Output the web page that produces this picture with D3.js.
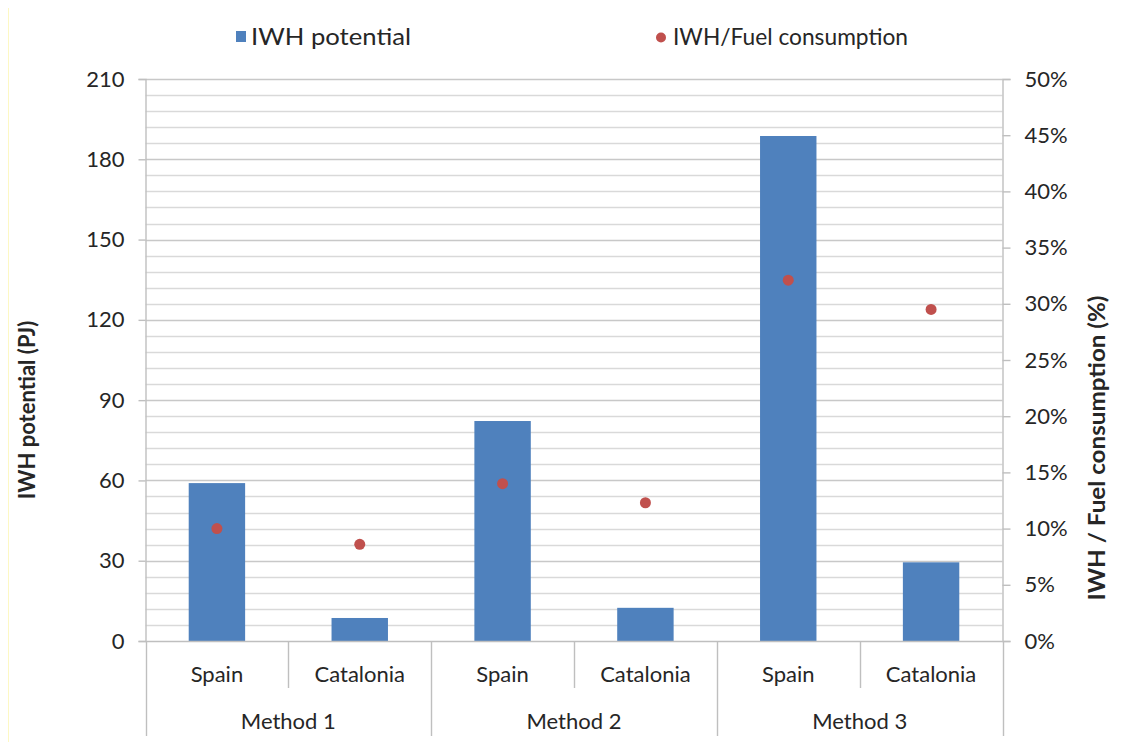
<!DOCTYPE html>
<html>
<head>
<meta charset="utf-8">
<script src="https://cdn.jsdelivr.net/npm/d3@7"></script>
<style>
  html, body { margin: 0; padding: 0; background: #fff; }
  svg text { font-family: Lato, "Open Sans", sans-serif; fill: #262626; }
</style>
</head>
<body>
<svg id="chart" width="1134" height="742"></svg>
<script>
// Industrial waste heat (IWH) potential by method and region
const methods = ["Method 1", "Method 2", "Method 3"];
const regions = ["Spain", "Catalonia"];
const iwhPotential = [59.0, 8.6, 82.2, 12.4, 188.7, 29.4];   // PJ
const fuelShare = [10.0, 8.6, 14.0, 12.3, 32.1, 29.5];       // % of fuel consumption
const leftTicks = [0, 30, 60, 90, 120, 150, 180, 210];
const rightTicks = [0, 5, 10, 15, 20, 25, 30, 35, 40, 45, 50];
const seriesNames = ["IWH potential", "IWH/Fuel consumption"];

const rows = [];
methods.forEach((m, i) => regions.forEach((r, j) => {
  const k = i * regions.length + j;
  rows.push({ key: m + "|" + r, method: m, region: r, iwh: iwhPotential[k], share: fuelShare[k] });
}));

const svg = d3.select("#chart");
const plot = { left: 145.5, right: 1002.5, top: 79, bottom: 641 };
const fs = 22;

const x = d3.scaleBand().domain(rows.map(d => d.key)).range([plot.left, plot.right]).padding(0);
const xMethod = d3.scaleBand().domain(methods).range([plot.left, plot.right]).padding(0);
const yL = d3.scaleLinear().domain([0, 210]).range([plot.bottom, plot.top]);
const yR = d3.scaleLinear().domain([0, 50]).range([plot.bottom, plot.top]);

// faint page edge
svg.append("line").attr("x1", 8.5).attr("x2", 8.5).attr("y1", 8).attr("y2", 742)
  .attr("stroke", "#fdf8c4").attr("stroke-width", 1);

// horizontal gridlines (major every 30, minor every 6)
const gridVals = d3.range(6, 211, 6);
svg.append("g").selectAll("line").data(gridVals).join("line")
  .attr("x1", plot.left).attr("x2", plot.right)
  .attr("y1", d => Math.round(yL(d)) + 0.5).attr("y2", d => Math.round(yL(d)) + 0.5)
  .attr("stroke", d => d % 30 === 0 ? "#c8c8c8" : "#d9d9d9").attr("stroke-width", 1.6);

// left axis
const axisL = svg.append("g").attr("transform", `translate(${plot.left},0)`)
  .call(d3.axisLeft(yL).tickValues(leftTicks).tickSize(7).tickPadding(14));
axisL.select(".domain").attr("stroke", "#bfbfbf").attr("stroke-width", 1.4);
axisL.selectAll(".tick line").attr("stroke", "#bfbfbf").attr("stroke-width", 1.4);
axisL.selectAll(".tick text").attr("font-size", fs).attr("font-family", "Lato, sans-serif").attr("fill", "#262626");

// right axis
const axisR = svg.append("g").attr("transform", `translate(${plot.right},0)`)
  .call(d3.axisRight(yR).tickValues(rightTicks).tickFormat(d => d + "%").tickSize(8).tickPadding(14));
axisR.select(".domain").attr("stroke", "#bfbfbf").attr("stroke-width", 1.4);
axisR.selectAll(".tick line").attr("stroke", "#bfbfbf").attr("stroke-width", 1.4);
axisR.selectAll(".tick text").attr("font-size", fs).attr("font-family", "Lato, sans-serif").attr("fill", "#262626");

// bars
const barW = x.bandwidth() * 0.395;
svg.append("g").selectAll("rect").data(rows).join("rect")
  .attr("x", d => x(d.key) + (x.bandwidth() - barW) / 2)
  .attr("width", barW)
  .attr("y", d => yL(d.iwh))
  .attr("height", d => yL(0) - yL(d.iwh))
  .attr("fill", "#4f81bd");

// baseline
svg.append("line").attr("x1", plot.left).attr("x2", plot.right)
  .attr("y1", plot.bottom + 0.5).attr("y2", plot.bottom + 0.5)
  .attr("stroke", "#bfbfbf").attr("stroke-width", 1.4);

// share markers
svg.append("g").selectAll("circle").data(rows).join("circle")
  .attr("cx", d => x(d.key) + x.bandwidth() / 2)
  .attr("cy", d => yR(d.share))
  .attr("r", 5.5)
  .attr("fill", "#c0504d");

// category axis: region separators and method separators
const catAxis = svg.append("g");
rows.forEach((d, i) => {
  if (i % regions.length !== 0) {
    catAxis.append("line").attr("x1", Math.round(x(d.key)) + 0.5).attr("x2", Math.round(x(d.key)) + 0.5)
      .attr("y1", plot.bottom).attr("y2", 688).attr("stroke", "#bfbfbf").attr("stroke-width", 1.4);
  }
});
methods.concat([null]).forEach((m) => {
  const xx = m ? xMethod(m) : plot.right;
  catAxis.append("line").attr("x1", Math.round(xx) + 0.5).attr("x2", Math.round(xx) + 0.5)
    .attr("y1", plot.bottom).attr("y2", 736).attr("stroke", "#bfbfbf").attr("stroke-width", 1.4);
});
catAxis.selectAll("text.region").data(rows).join("text").attr("class", "region")
  .attr("x", d => x(d.key) + x.bandwidth() / 2).attr("y", 682)
  .attr("text-anchor", "middle").attr("font-size", fs).text(d => d.region);
catAxis.selectAll("text.method").data(methods).join("text").attr("class", "method")
  .attr("x", d => xMethod(d) + xMethod.bandwidth() / 2).attr("y", 729)
  .attr("text-anchor", "middle").attr("font-size", fs).text(d => d);

// axis titles
svg.append("text").attr("transform", `translate(35,410) rotate(-90)`)
  .attr("text-anchor", "middle").attr("font-size", 22).attr("font-weight", "bold")
  .attr("fill", "#000").text("IWH potential (PJ)");
svg.append("text").attr("transform", `translate(1105,448) rotate(-90)`)
  .attr("text-anchor", "middle").attr("font-size", 22).attr("font-weight", "bold")
  .attr("fill", "#000").attr("textLength", 305).attr("lengthAdjust", "spacingAndGlyphs")
  .text("IWH / Fuel consumption (%)");

// legend
const legend = svg.append("g");
legend.append("rect").attr("x", 236).attr("y", 31).attr("width", 10).attr("height", 11).attr("fill", "#4f81bd");
legend.append("text").attr("x", 251).attr("y", 45).attr("font-size", 23)
  .attr("textLength", 160).attr("lengthAdjust", "spacingAndGlyphs").text(seriesNames[0]);
legend.append("circle").attr("cx", 661).attr("cy", 37.5).attr("r", 5).attr("fill", "#c0504d");
legend.append("text").attr("x", 673).attr("y", 45).attr("font-size", 23)
  .attr("textLength", 235).attr("lengthAdjust", "spacingAndGlyphs").text(seriesNames[1]);
</script>
</body>
</html>
